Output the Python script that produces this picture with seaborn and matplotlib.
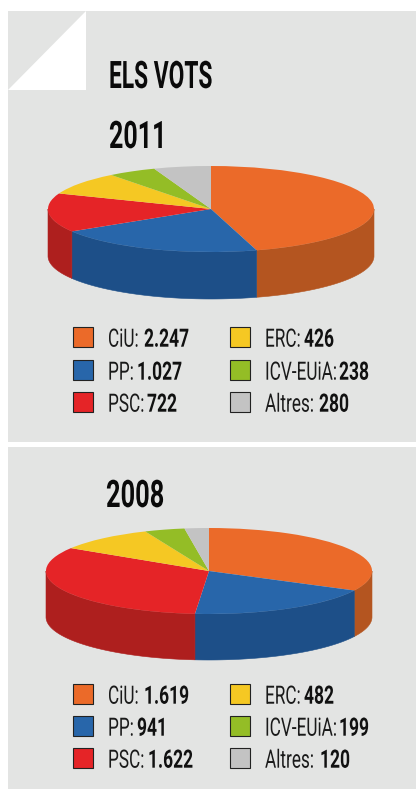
import numpy as np
import matplotlib
matplotlib.use("Agg")
import matplotlib.pyplot as plt
from matplotlib.patches import Polygon, Rectangle
from matplotlib.patheffects import AbstractPathEffect
from matplotlib.text import Text
from matplotlib.transforms import Affine2D, Bbox
import seaborn as sns

W, H = 416, 789

parties = ["CiU", "PP", "PSC", "ERC", "ICV-EUiA", "Altres"]
votes_2011 = [2247, 1027, 722, 426, 238, 280]
votes_2008 = [1619, 941, 1622, 482, 199, 120]
title = "ELS VOTS"
years = ["2011", "2008"]
top_colors = ["#EB6A29", "#2866AA", "#E52427", "#F5C823", "#94BD26", "#C3C3C3"]
wall_colors = ["#B45520", "#1D4F88", "#AE1F1E", "#B8961A", "#6F8E1C", "#929292"]
panel_color = "#E3E4E3"

sns.set_style("white")
plt.rcParams["font.family"] = ["Roboto", "DejaVu Sans"]
top_palette = sns.color_palette(top_colors)
wall_palette = sns.color_palette(wall_colors)


class Squeeze(AbstractPathEffect):
    """Condense glyph outlines horizontally about the text origin."""

    def __init__(self, k):
        super().__init__()
        self.k = k

    def draw_path(self, renderer, gc, tpath, affine, rgbFace=None):
        m = affine.get_matrix().copy()
        m[0, 0] *= self.k
        m[0, 1] *= self.k
        renderer.draw_path(gc, tpath, Affine2D(m), rgbFace)


class NarrowText(Text):
    """A real text drawn condensed, since no condensed family is installed."""

    def __init__(self, *args, squeeze=1.0, **kwargs):
        super().__init__(*args, **kwargs)
        self.squeeze = squeeze
        self.set_path_effects([Squeeze(squeeze)])

    def _get_layout(self, renderer):
        bb, info, descent = super()._get_layout(renderer)
        narrow = Bbox.from_extents(bb.x0, bb.y0, bb.x0 + bb.width * self.squeeze, bb.y1)
        return narrow, info, descent


fig = plt.figure(figsize=(W / 100, H / 100), dpi=100, facecolor="white")
bg = fig.add_axes([0, 0, 1, 1])
bg.set_xlim(0, W)
bg.set_ylim(H, 0)
bg.axis("off")
bg.add_patch(Rectangle((8, 11), 408, 431, fc=panel_color, ec="none"))
bg.add_patch(Rectangle((8, 447), 408, 342, fc=panel_color, ec="none"))
bg.add_patch(Polygon([(8, 90), (86, 11), (86, 90)], fc="white", ec="none"))


def put_text(x, y, s, size, weight, squeeze, color):
    t = NarrowText(x, y, s, squeeze=squeeze, fontsize=size, fontweight=weight,
                   color=color, va="baseline", ha="left")
    bg.add_artist(t)
    return t


def pie3d(values, cx, cy, rx, ry, depth):
    pad = 1.1
    d = depth / ry
    left, right = cx - pad * rx, cx + pad * rx
    top, bottom = cy - pad * ry, cy + (pad + d) * ry
    ax = fig.add_axes([left / W, 1 - bottom / H, (right - left) / W, (bottom - top) / H])
    ax.patch.set_alpha(0)
    shares = np.cumsum([0] + list(values)) / np.sum(values) * 360
    for i in range(len(values)):
        a0, a1 = max(shares[i], 90), min(shares[i + 1], 270)
        if a1 <= a0:
            continue
        t = np.radians(np.linspace(a0, a1, 120))
        x, y = np.sin(t), np.cos(t)
        ax.fill(np.r_[x, x[::-1]], np.r_[y, y[::-1] - d], color=wall_palette[i], lw=0.4)
    ax.pie(values, colors=top_palette, startangle=90, counterclock=False, radius=1,
           wedgeprops=dict(linewidth=0))
    ax.set_aspect("auto")
    ax.set_xlim(-pad, pad)
    ax.set_ylim(-pad - d, pad)
    ax.axis("off")


def fmt(v):
    return f"{v:,}".replace(",", ".")


def legend(values, rows_y, value_x):
    for i, (p, v) in enumerate(zip(parties, values)):
        col, row = i // 3, i % 3
        sx = (73, 230)[col]
        y = rows_y[row]
        bg.add_patch(Rectangle((sx + 0.5, y - 9.5), 20, 20, fc="#9a9a9a", ec="none", alpha=0.6))
        bg.add_patch(Rectangle((sx, y - 10), 20, 20, fc=top_palette[i], ec="#222222", lw=0.8))
        put_text((108, 265)[col], y + 9.7, f"{p}:", 18.2, "normal", 0.68, "#1a1a1a")
        put_text(value_x[i], y + 9.7, fmt(v), 18.2, "bold", 0.69, "#111111")


pie3d(votes_2011, 211, 209, 163, 43, 47)
pie3d(votes_2008, 209, 571, 163, 43, 46)
legend(votes_2011, (337, 370, 402), (144, 137, 147, 304, 339, 319))
legend(votes_2008, (694, 726, 758), (144, 137, 148, 304, 339, 320))

put_text(109, 88, title, 27.3, "bold", 0.60, "#0a0a0a")
put_text(109, 148, years[0], 27.3, "bold", 0.66, "#0a0a0a")
put_text(106, 507, years[1], 27.3, "bold", 0.67, "#0a0a0a")

fig.savefig("out.png", dpi=100, facecolor="white")
